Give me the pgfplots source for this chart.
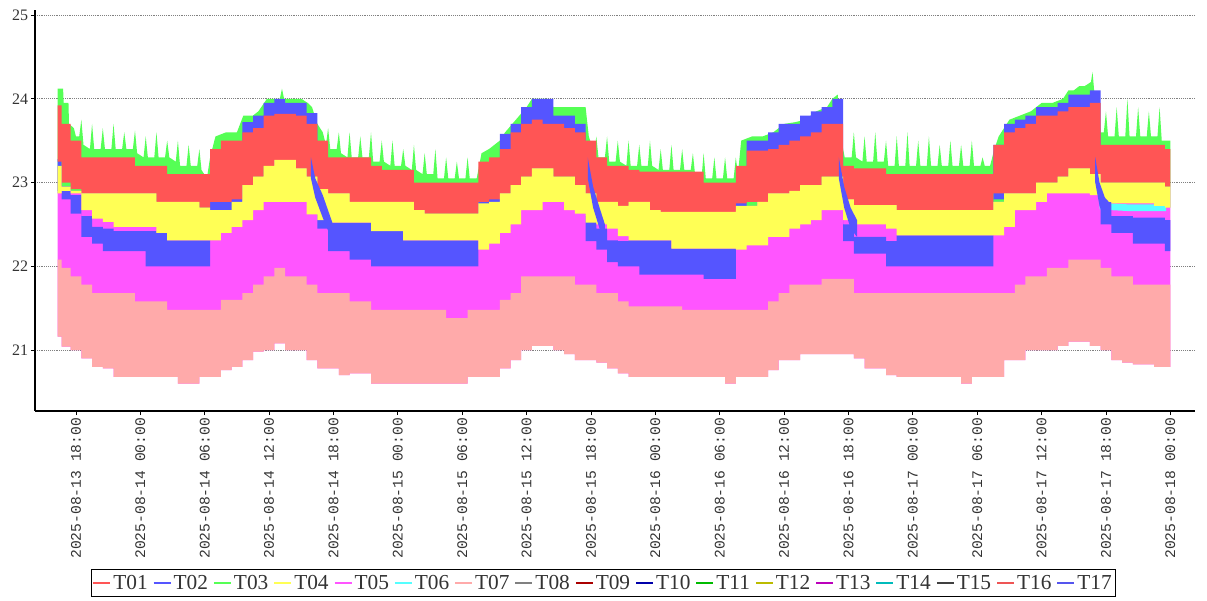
\documentclass[border=0pt]{standalone}
\usepackage{fontspec}
\setmainfont{Liberation Serif}
\newfontfamily\monofont{Liberation Mono}
\usepackage{pgfplots}
\pgfplotsset{compat=1.18}
\usepackage{pgfplotstable}
\usepgfplotslibrary{fillbetween}

\definecolor{cR}{HTML}{FF5555}
\definecolor{cB}{HTML}{5555FF}
\definecolor{cG}{HTML}{55FF55}
\definecolor{cY}{HTML}{FFFF55}
\definecolor{cM}{HTML}{FF55FF}
\definecolor{cC}{HTML}{55FFFF}
\definecolor{cP}{HTML}{FFAAAA}
\definecolor{c08}{HTML}{808080}
\definecolor{c09}{HTML}{AA0000}
\definecolor{c10}{HTML}{0000AA}
\definecolor{c11}{HTML}{00BB00}
\definecolor{c12}{HTML}{BBBB00}
\definecolor{c13}{HTML}{BB00BB}
\definecolor{c14}{HTML}{00BBBB}
\definecolor{c15}{HTML}{404040}
\definecolor{c16}{HTML}{EE5555}
\definecolor{c17}{HTML}{5555EE}
\definecolor{txt}{HTML}{333333}

% h = hours after 2025-08-13 18:00
% rt: T01/T16 top, rb: red lower edge, yt/yb: T04 band, bt/bb: T02/T17 band, pt/pb: T07 band
\pgfplotstableread{
h     rt    rb    yt    yb    bt    bb    pt    pb
-1.7  23.92 23.25 23.20 22.87 23.28 22.90 22.08 21.16
-1    23.70 23.00 22.95 22.90 22.95 22.80 21.98 21.04
0     23.50 22.92 22.90 22.87 22.85 22.63 21.88 21.00
1     23.30 22.87 22.87 22.67 22.60 22.35 21.78 20.90
2     23.30 22.87 22.87 22.57 22.47 22.27 21.68 20.80
3     23.30 22.87 22.87 22.53 22.45 22.18 21.68 20.78
4     23.30 22.87 22.87 22.47 22.42 22.18 21.68 20.68
5     23.30 22.87 22.87 22.47 22.42 22.18 21.68 20.68
6     23.20 22.87 22.87 22.47 22.42 22.18 21.58 20.68
7     23.20 22.87 22.87 22.47 22.42 22.00 21.58 20.68
8     23.20 22.77 22.77 22.40 22.40 22.00 21.58 20.68
9     23.10 22.77 22.77 22.31 22.31 22.00 21.48 20.68
10    23.10 22.77 22.77 22.31 22.31 22.00 21.48 20.60
11    23.10 22.77 22.77 22.31 22.31 22.00 21.48 20.60
12    23.10 22.70 22.70 22.31 22.31 22.00 21.48 20.68
13    23.40 22.77 22.67 22.31 22.80 22.50 21.48 20.68
14    23.50 22.77 22.67 22.40 22.85 22.55 21.60 20.76
15    23.50 22.80 22.77 22.47 23.00 22.60 21.60 20.80
16    23.60 22.97 22.97 22.55 23.72 23.20 21.68 20.88
17    23.65 23.07 23.07 22.67 23.80 23.30 21.78 20.98
18    23.80 23.20 23.20 22.77 23.95 23.40 21.88 21.00
19    23.82 23.27 23.27 22.77 24.00 23.50 21.98 21.08
20    23.82 23.27 23.27 22.77 23.95 23.50 21.88 21.00
21    23.80 23.17 23.17 22.77 23.95 23.40 21.88 21.00
22    23.70 23.07 23.07 22.62 23.83 23.30 21.78 20.88
23    23.50 22.92 22.92 22.55 22.75 22.45 21.68 20.78
24    23.30 22.87 22.87 22.52 22.52 22.18 21.68 20.78
25    23.30 22.87 22.87 22.52 22.52 22.18 21.68 20.70
26    23.30 22.77 22.77 22.52 22.52 22.08 21.58 20.72
27    23.30 22.77 22.77 22.52 22.52 22.08 21.58 20.72
28    23.20 22.77 22.77 22.42 22.42 22.00 21.48 20.60
29    23.15 22.77 22.77 22.42 22.42 22.00 21.48 20.60
30    23.15 22.77 22.77 22.42 22.42 22.00 21.48 20.60
31    23.15 22.77 22.77 22.31 22.31 22.00 21.48 20.60
32    23.00 22.67 22.67 22.31 22.31 22.00 21.48 20.60
33    23.00 22.63 22.63 22.31 22.31 22.00 21.48 20.60
34    23.00 22.63 22.63 22.31 22.31 22.00 21.48 20.60
35    23.00 22.63 22.63 22.31 22.31 22.00 21.38 20.60
36    23.00 22.63 22.63 22.31 22.31 22.00 21.38 20.60
37    23.00 22.63 22.63 22.31 22.31 22.00 21.48 20.68
38    23.25 22.77 22.75 22.20 22.80 22.50 21.48 20.68
39    23.30 22.80 22.77 22.27 22.85 22.50 21.48 20.68
40    23.40 22.87 22.87 22.40 23.58 23.00 21.60 20.78
41    23.60 22.97 22.97 22.50 23.70 23.20 21.68 20.88
42    23.70 23.07 23.07 22.67 23.90 23.30 21.88 21.00
43    23.75 23.17 23.17 22.67 24.00 23.40 21.88 21.05
44    23.70 23.17 23.17 22.77 24.00 23.40 21.88 21.05
45    23.70 23.07 23.07 22.77 23.80 23.30 21.88 21.00
46    23.65 23.07 23.07 22.67 23.80 23.30 21.88 20.95
47    23.60 22.97 22.97 22.63 23.70 23.20 21.78 20.88
48    23.50 22.87 22.87 22.52 22.60 22.30 21.78 20.88
49    23.30 22.77 22.77 22.50 22.45 22.20 21.68 20.85
50    23.20 22.77 22.77 22.45 22.31 22.05 21.68 20.78
51    23.20 22.72 22.72 22.36 22.30 22.00 21.58 20.72
52    23.15 22.77 22.77 22.31 22.31 22.00 21.52 20.68
53    23.13 22.77 22.77 22.31 22.31 21.90 21.52 20.68
54    23.13 22.67 22.67 22.31 22.31 21.90 21.52 20.68
55    23.13 22.65 22.65 22.31 22.31 21.90 21.52 20.68
56    23.13 22.65 22.65 22.21 22.21 21.90 21.52 20.68
57    23.13 22.65 22.65 22.21 22.21 21.90 21.48 20.68
58    23.13 22.65 22.65 22.21 22.21 21.90 21.48 20.68
59    23.00 22.65 22.65 22.21 22.21 21.85 21.48 20.68
60    23.00 22.65 22.65 22.21 22.21 21.85 21.48 20.68
61    23.00 22.65 22.65 22.21 22.21 21.85 21.48 20.60
62    23.20 22.75 22.72 22.20 22.80 22.50 21.48 20.68
63    23.38 22.77 22.72 22.25 23.50 22.90 21.48 20.68
64    23.38 22.77 22.77 22.25 23.50 23.00 21.48 20.68
65    23.40 22.87 22.87 22.35 23.60 23.00 21.58 20.76
66    23.45 22.87 22.87 22.35 23.70 23.10 21.68 20.88
67    23.50 22.90 22.90 22.45 23.70 23.10 21.78 20.88
68    23.55 22.97 22.97 22.50 23.80 23.20 21.78 20.95
69    23.60 22.97 22.97 22.55 23.85 23.20 21.78 20.95
70    23.70 23.07 23.07 22.67 23.90 23.30 21.85 20.95
71    23.70 23.07 23.07 22.67 24.00 23.30 21.85 20.95
72    23.20 22.80 22.80 22.55 22.50 22.30 21.85 20.95
73    23.17 22.73 22.73 22.50 22.35 22.15 21.68 20.90
74    23.17 22.73 22.73 22.50 22.35 22.15 21.68 20.78
75    23.17 22.73 22.73 22.50 22.35 22.15 21.68 20.78
76    23.10 22.73 22.73 22.45 22.30 22.00 21.68 20.70
77    23.10 22.67 22.67 22.37 22.37 22.00 21.68 20.68
78    23.10 22.67 22.67 22.37 22.37 22.00 21.68 20.68
79    23.10 22.67 22.67 22.37 22.37 22.00 21.68 20.68
80    23.10 22.67 22.67 22.37 22.37 22.00 21.68 20.68
81    23.10 22.67 22.67 22.37 22.37 22.00 21.68 20.68
82    23.10 22.67 22.67 22.37 22.37 22.00 21.68 20.68
83    23.10 22.67 22.67 22.37 22.37 22.00 21.68 20.60
84    23.10 22.67 22.67 22.37 22.37 22.00 21.68 20.68
85    23.10 22.67 22.67 22.37 22.37 22.00 21.68 20.68
86    23.45 22.87 22.77 22.37 23.45 22.80 21.68 20.68
87    23.60 22.87 22.87 22.47 23.70 23.00 21.68 20.88
88    23.65 22.87 22.87 22.67 23.75 23.10 21.78 20.88
89    23.70 22.87 22.87 22.67 23.80 23.20 21.88 21.00
90    23.80 23.00 23.00 22.77 23.90 23.30 21.88 21.00
91    23.80 23.00 23.00 22.87 23.90 23.30 21.98 21.00
92    23.85 23.07 23.07 22.87 23.95 23.40 21.98 21.05
93    23.90 23.17 23.17 22.87 24.05 23.40 22.08 21.10
94    23.90 23.17 23.17 22.87 24.05 23.40 22.08 21.10
95    23.95 23.10 23.10 22.85 24.10 23.40 22.08 21.05
96    23.45 23.00 23.00 22.77 22.80 22.50 21.98 21.00
97    23.45 23.00 23.00 22.75 22.60 22.40 21.88 20.88
98    23.45 23.00 23.00 22.75 22.60 22.40 21.88 20.85
99    23.45 23.00 23.00 22.75 22.58 22.27 21.78 20.83
100   23.45 23.00 23.00 22.75 22.58 22.27 21.78 20.83
101   23.45 23.00 23.00 22.72 22.58 22.27 21.78 20.80
102   23.40 22.95 22.95 22.70 22.55 22.18 21.78 20.80
}\data

\begin{document}
\begin{tikzpicture}
\begin{axis}[
  name=ax, at={(0pt,0pt)}, anchor=south west,
  scale only axis, width=870pt, height=300.75pt,
  xmin=-3.82, xmax=104.3, ymin=20.272, ymax=25.06,
  axis lines*=left,
  axis line style={line width=1.5pt, black},
  ymajorgrids,
  grid style={densely dotted, gray, line width=0.6pt},
  tick align=outside, major tick length=3pt,
  tick style={black, line width=0.6pt},
  xtick={0,6,...,102},
  xticklabels={2025-08-13 18:00,2025-08-14 00:00,2025-08-14 06:00,2025-08-14 12:00,2025-08-14 18:00,2025-08-15 00:00,2025-08-15 06:00,2025-08-15 12:00,2025-08-15 18:00,2025-08-16 00:00,2025-08-16 06:00,2025-08-16 12:00,2025-08-16 18:00,2025-08-17 00:00,2025-08-17 06:00,2025-08-17 12:00,2025-08-17 18:00,2025-08-18 00:00},
  xticklabel style={rotate=90, anchor=east, font=\monofont\fontsize{11}{11}\selectfont, text=txt, inner sep=2pt},
  ytick={21,22,23,24,25},
  yticklabel style={font=\fontsize{12}{12}\selectfont, text=txt, inner sep=2pt},
  /pgf/number format/assume math mode=true,
  legend columns=17,
  legend style={at={(0.4897,-0.4289)}, anchor=center, draw=black, line width=0.8pt,
    font=\fontsize{16}{16}\selectfont, text=txt, inner xsep=1pt, inner ysep=1pt,
    nodes={inner xsep=1.5pt, inner ysep=3pt},
    /tikz/every even column/.append style={column sep=2.2pt}},
  legend image code/.code={\draw[#1, line width=1.5pt] (0pt,0pt) -- (12.75pt,0pt);},
]
% boundary paths
\addplot[draw=none, forget plot, name path=GT] coordinates {
(-1.7,24.12)(-1.2,24.12)(-1.15,23.95)(-0.7,23.95)(-0.65,23.7)(-0.2,23.65)
(0,23.55)(0.3,23.55)(0.5,23.75)(0.7,23.45)
(1.3,23.4)(1.5,23.7)(1.7,23.4)(2.3,23.4)(2.5,23.65)(2.7,23.4)
(3.3,23.4)(3.5,23.7)(3.7,23.4)(4.3,23.4)(4.5,23.6)(4.7,23.4)
(5.3,23.4)(5.5,23.62)(5.7,23.35)(6.3,23.3)(6.5,23.55)(6.7,23.3)
(7.3,23.3)(7.5,23.6)(7.7,23.3)(8.3,23.3)(8.5,23.5)(8.7,23.3)
(9.3,23.25)(9.5,23.5)(9.7,23.2)(10.3,23.2)(10.5,23.45)(10.7,23.2)
(11.3,23.2)(11.5,23.4)(11.7,23.15)(12.2,23.05)(12.5,23.3)
(13,23.55)(14,23.6)(15,23.6)(15.6,23.8)(16.5,23.8)(17,23.85)(17.8,24.0)(19,24.0)(19.2,24.12)(19.4,24.0)
(20,24.0)(21,24.0)(21.6,23.95)(22,23.9)(22.5,23.7)(23,23.6)
(23.3,23.45)(23.5,23.65)(23.7,23.4)(24.3,23.4)(24.5,23.6)(24.7,23.35)
(25.3,23.3)(25.5,23.6)(25.7,23.3)(26.3,23.3)(26.5,23.55)(26.7,23.3)
(27.3,23.3)(27.5,23.6)(27.7,23.25)(28.3,23.25)(28.5,23.5)(28.7,23.25)
(29.3,23.2)(29.5,23.5)(29.7,23.2)(30.3,23.2)(30.5,23.4)(30.7,23.2)
(31.3,23.15)(31.5,23.45)(31.7,23.15)(32.3,23.1)(32.5,23.35)(32.7,23.1)
(33.3,23.1)(33.5,23.4)(33.7,23.05)(34.3,23.05)(34.5,23.3)(34.7,23.05)
(35.3,23.05)(35.5,23.25)(35.7,23.05)(36.3,23.05)(36.5,23.3)(36.7,23.05)
(37.35,23.05)(37.8,23.35)(38.5,23.4)(39,23.45)(39.5,23.5)(40,23.6)(41,23.75)(42,23.9)(42.5,24.0)
(44,24.0)(44.5,23.9)(47.5,23.9)(47.8,23.55)
(48.3,23.35)(48.5,23.55)(48.7,23.3)(49.3,23.3)(49.5,23.55)(49.7,23.25)
(50.3,23.25)(50.5,23.5)(50.7,23.25)(51.3,23.2)(51.5,23.5)(51.7,23.2)
(52.3,23.2)(52.5,23.45)(52.7,23.2)(53.3,23.2)(53.5,23.5)(53.7,23.2)
(54.3,23.15)(54.5,23.4)(54.7,23.15)(55.3,23.15)(55.5,23.45)(55.7,23.15)
(56.3,23.15)(56.5,23.4)(56.7,23.15)(57.3,23.15)(57.5,23.35)(57.7,23.1)
(58.3,23.05)(58.5,23.35)(58.7,23.05)(59.3,23.05)(59.5,23.3)(59.7,23.05)
(60.3,23.05)(60.5,23.3)(60.7,23.05)(61.3,23.05)(61.5,23.3)(61.7,23.1)
(62,23.5)(63,23.55)(64,23.55)(65,23.6)(66,23.7)(67,23.72)(68,23.75)(69,23.85)(70,23.9)(70.5,24.0)(71,24.05)(71.2,23.6)
(71.65,23.3)(72.3,23.3)(72.5,23.6)(72.7,23.3)
(73.3,23.25)(73.5,23.55)(73.7,23.25)(74.3,23.25)(74.5,23.6)(74.7,23.25)
(75.3,23.25)(75.5,23.5)(75.7,23.2)(76.3,23.2)(76.5,23.55)(76.7,23.2)
(77.3,23.2)(77.5,23.6)(77.7,23.2)(78.3,23.2)(78.5,23.5)(78.7,23.2)
(79.3,23.2)(79.5,23.55)(79.7,23.2)(80.3,23.2)(80.5,23.45)(80.7,23.2)
(81.3,23.2)(81.5,23.5)(81.7,23.2)(82.3,23.2)(82.5,23.45)(82.7,23.2)
(83.3,23.2)(83.5,23.5)(83.7,23.2)(84.3,23.2)(84.5,23.3)(84.7,23.2)
(85.2,23.2)(85.6,23.4)(86,23.55)(86.5,23.65)(87,23.75)(88,23.8)(89,23.85)(90,23.95)(91,23.95)(92,24.0)
(92.5,24.1)(93,24.1)(93.5,24.15)(94,24.15)(94.6,24.2)(94.75,24.32)(94.9,24.1)(95.3,23.9)(95.5,23.6)
(95.8,23.6)(96,23.85)(96.2,23.55)(96.8,23.55)(97,23.9)(97.2,23.55)
(97.8,23.55)(98,24.0)(98.2,23.55)(98.8,23.55)(99,23.9)(99.2,23.55)
(99.8,23.55)(100,23.85)(100.2,23.55)(100.8,23.55)(101,23.9)(101.2,23.5)
(101.8,23.5)(102,23.5)
};
\addplot[draw=none, forget plot, name path=RT, const plot mark mid] table[x=h,y=rt]{\data};
\addplot[draw=none, forget plot, name path=RB, const plot mark mid] table[x=h,y=rb]{\data};
\addplot[draw=none, forget plot, name path=YT, const plot mark mid] table[x=h,y=yt]{\data};
\addplot[draw=none, forget plot, name path=YB, const plot mark mid] table[x=h,y=yb]{\data};
\addplot[draw=none, forget plot, name path=BT, const plot mark mid] table[x=h,y=bt]{\data};
\addplot[draw=none, forget plot, name path=BB, const plot mark mid] table[x=h,y=bb]{\data};
\addplot[draw=none, forget plot, name path=PT, const plot mark mid] table[x=h,y=pt]{\data};
\addplot[draw=none, forget plot, name path=PB, const plot mark mid] table[x=h,y=pb]{\data};
\addplot[draw=none, forget plot, name path=CT] coordinates {(95.4,22.76)(96.5,22.75)(98,22.74)(101.6,22.74)};
\addplot[draw=none, forget plot, name path=CB] coordinates {(95.4,22.68)(96.5,22.67)(98,22.66)(101.6,22.66)};
% T02/T17 evening descents (drawn over red and yellow)
\addplot[draw=none, forget plot, name path=E1T] coordinates {(21.9,23.3)(22.3,23.05)(23.0,22.85)(23.9,22.52)};
\addplot[draw=none, forget plot, name path=E1B] coordinates {(21.9,23.05)(22.3,22.82)(23.0,22.58)(23.9,22.3)};
\addplot[draw=none, forget plot, name path=E2T] coordinates {(47.7,23.3)(48.2,22.95)(48.8,22.7)(49.3,22.5)};
\addplot[draw=none, forget plot, name path=E2B] coordinates {(47.7,23.05)(48.2,22.7)(48.8,22.45)(49.3,22.3)};
\addplot[draw=none, forget plot, name path=E3T] coordinates {(71.1,23.3)(71.6,22.95)(72.2,22.7)(72.8,22.55)};
\addplot[draw=none, forget plot, name path=E3B] coordinates {(71.1,23.05)(71.6,22.7)(72.2,22.45)(72.8,22.35)};
\addplot[draw=none, forget plot, name path=E4T] coordinates {(95.0,23.3)(95.4,23.0)(95.9,22.82)(96.4,22.75)};
\addplot[draw=none, forget plot, name path=E4B] coordinates {(95.0,23.0)(95.4,22.72)(95.9,22.55)(96.4,22.5)};
% bands, back to front
\addplot[fill=cG, draw=none, forget plot] fill between[of=GT and YB];
\addplot[fill=cM, draw=none, forget plot] fill between[of=YT and PB];
\addplot[fill=cP, draw=none, forget plot] fill between[of=PT and PB];
\addplot[fill=cC, draw=none, forget plot] fill between[of=CT and CB];
\addplot[fill=cB, draw=none, forget plot] fill between[of=BT and BB];
\addplot[fill=cR, draw=none, forget plot] fill between[of=RT and RB];
\addplot[fill=cY, draw=none, forget plot] fill between[of=YT and YB];
\addplot[fill=cB, draw=none, forget plot] fill between[of=E1T and E1B];
\addplot[fill=cB, draw=none, forget plot] fill between[of=E2T and E2B];
\addplot[fill=cB, draw=none, forget plot] fill between[of=E3T and E3B];
\addplot[fill=cB, draw=none, forget plot] fill between[of=E4T and E4B];
% legend
\addlegendimage{cR}\addlegendimage{cB}\addlegendimage{cG}\addlegendimage{cY}
\addlegendimage{cM}\addlegendimage{cC}\addlegendimage{cP}\addlegendimage{c08}
\addlegendimage{c09}\addlegendimage{c10}\addlegendimage{c11}\addlegendimage{c12}
\addlegendimage{c13}\addlegendimage{c14}\addlegendimage{c15}\addlegendimage{c16}
\addlegendimage{c17}
\legend{T01,T02,T03,T04,T05,T06,T07,T08,T09,T10,T11,T12,T13,T14,T15,T16,T17}
\end{axis}
\path (-26.25pt,-141.75pt) rectangle (879pt,308.25pt);
\end{tikzpicture}
\end{document}
